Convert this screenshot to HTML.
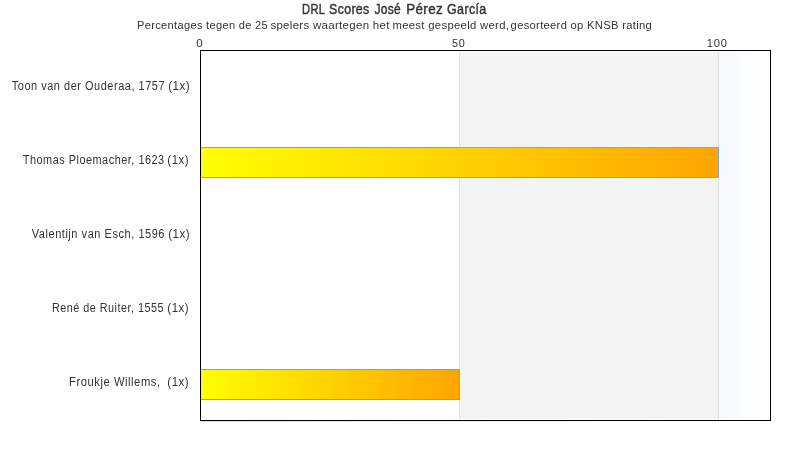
<!DOCTYPE html>
<html><head><meta charset="utf-8">
<style>
html,body{margin:0;padding:0;background:#fff;width:790px;height:450px;overflow:hidden}
svg{display:block;will-change:transform}
text{font-family:"Liberation Sans",sans-serif;fill:#333}
</style></head><body>
<svg width="790" height="450" viewBox="0 0 790 450" shape-rendering="crispEdges">
<defs>
<linearGradient id="bar" x1="0" y1="0" x2="1" y2="0">
<stop offset="0" stop-color="#ffff00"/>
<stop offset="1" stop-color="#ffa500"/>
</linearGradient>
<linearGradient id="blue" x1="0" y1="0" x2="1" y2="0">
<stop offset="0" stop-color="#f5f9fd"/>
<stop offset="0.92" stop-color="#ffffff"/>
<stop offset="1" stop-color="#ffffff"/>
</linearGradient>
<linearGradient id="bline" x1="0" y1="0" x2="1" y2="0">
<stop offset="0" stop-color="#bde6f7"/>
<stop offset="1" stop-color="#ffffff"/>
</linearGradient>
</defs>
<rect x="0" y="0" width="790" height="450" fill="#fff"/>
<!-- title -->
<g font-size="13.8" fill="#3a3a3a" stroke="#3a3a3a" stroke-width="0.45"><text id="t0" x="302.07" y="14" textLength="23.15" lengthAdjust="spacingAndGlyphs" letter-spacing="0.4">DRL</text><text id="t1" x="329.07" y="14" textLength="40.56" lengthAdjust="spacingAndGlyphs" letter-spacing="0.4">Scores</text><text id="t2" x="374.41" y="14" textLength="26.69" lengthAdjust="spacingAndGlyphs" letter-spacing="0.4">José</text><text id="t3" x="406.19" y="14" textLength="36.95" lengthAdjust="spacingAndGlyphs" letter-spacing="0.4">Pérez</text><text id="t4" x="447.04" y="14" textLength="39.6" lengthAdjust="spacingAndGlyphs" letter-spacing="0.4">García</text></g>
<g font-size="11" letter-spacing="0.3"><text id="sub0" x="137.1" y="29" textLength="130.98" lengthAdjust="spacingAndGlyphs">Percentages tegen de 25</text><text id="sub1" x="270.4" y="29" textLength="119.32" lengthAdjust="spacingAndGlyphs">spelers waartegen het</text><text id="sub2" x="392.44" y="29" textLength="116.8" lengthAdjust="spacingAndGlyphs">meest gespeeld werd,</text><text id="sub3" x="510.63" y="29" textLength="141.36" lengthAdjust="spacingAndGlyphs">gesorteerd op KNSB rating</text></g>
<!-- bands -->
<rect x="460" y="52" width="258" height="367" fill="#f3f3f3"/>
<rect x="719" y="52" width="51" height="367" fill="url(#blue)"/>
<rect x="459" y="52" width="1" height="368" fill="#e2e2e2"/>
<rect x="718" y="52" width="1" height="368" fill="#e2e2e2"/>
<!-- axis labels -->
<text id="k0" x="196.22" y="47" textLength="6.47" lengthAdjust="spacingAndGlyphs" font-size="11.3">0</text>
<text id="k1" x="452.0" y="47" textLength="13.6" lengthAdjust="spacingAndGlyphs" font-size="11.3" letter-spacing="0.8">50</text>
<text id="k2" x="706.76" y="47" textLength="20.99" lengthAdjust="spacingAndGlyphs" font-size="11.3" letter-spacing="0.8">100</text>
<!-- bars -->
<rect x="201" y="146" width="518" height="1" fill="#fff" fill-opacity="0.5"/><rect x="201" y="178" width="518" height="1" fill="#fff" fill-opacity="0.5"/><rect x="719" y="147" width="1" height="31" fill="#fff" fill-opacity="0.85"/>
<rect x="200" y="147" width="519" height="31" fill="#65a9f5"/>
<rect x="201" y="148" width="517" height="29" fill="url(#bar)"/>
<rect x="201" y="368" width="259" height="1" fill="#fff" fill-opacity="0.5"/><rect x="460" y="369" width="1" height="31" fill="#fff" fill-opacity="0.85"/>
<rect x="200" y="369" width="260" height="31" fill="#65a9f5"/>
<rect x="201" y="370" width="258" height="29" fill="url(#bar)"/>
<!-- frame -->
<rect x="200" y="50" width="571" height="1" fill="#000"/>
<rect x="200" y="420" width="571" height="1" fill="#000"/>
<rect x="200" y="50" width="1" height="371" fill="#000"/>
<rect x="770" y="50" width="1" height="371" fill="#000"/>
<rect x="200" y="421" width="500" height="1" fill="url(#bline)"/>
<!-- category labels -->
<g font-size="12.5" letter-spacing="0.6">
<text id="n0" x="11.76" y="90" textLength="153.33" lengthAdjust="spacingAndGlyphs">Toon van der Ouderaa, 1757</text>
<text id="p0" x="168.17" y="90" textLength="22.07" lengthAdjust="spacingAndGlyphs">(1x)</text>
<text id="n1" x="22.76" y="164" textLength="141.95" lengthAdjust="spacingAndGlyphs">Thomas Ploemacher, 1623</text>
<text id="p1" x="167.29" y="164" textLength="21.87" lengthAdjust="spacingAndGlyphs">(1x)</text>
<text id="n2" x="31.78" y="238" textLength="133.28" lengthAdjust="spacingAndGlyphs">Valentijn van Esch, 1596</text>
<text id="p2" x="168.17" y="238" textLength="22.07" lengthAdjust="spacingAndGlyphs">(1x)</text>
<text id="n3" x="51.93" y="312" textLength="112.1" lengthAdjust="spacingAndGlyphs">René de Ruiter, 1555</text>
<text id="p3" x="167.29" y="312" textLength="21.87" lengthAdjust="spacingAndGlyphs">(1x)</text>
<text id="n4" x="69.1" y="386" textLength="91.48" lengthAdjust="spacingAndGlyphs">Froukje Willems,</text>
<text id="p4" x="167.29" y="386" textLength="21.87" lengthAdjust="spacingAndGlyphs">(1x)</text>
</g>
</svg>
</body></html>
